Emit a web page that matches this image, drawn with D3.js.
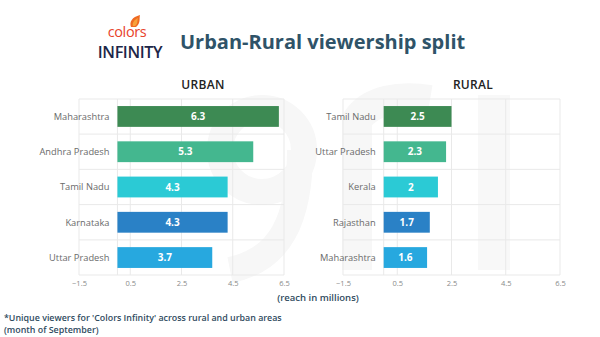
<!DOCTYPE html>
<html><head><meta charset="utf-8">
<script src="https://cdn.jsdelivr.net/npm/d3@7"></script>
<style>body{margin:0;background:#fff}svg{display:block}text{font-family:"Open Sans",sans-serif}</style>
</head><body>
<svg id="c" width="600" height="337"></svg>
<script>
const urbanStates = ["Maharashtra","Andhra Pradesh","Tamil Nadu","Karnataka","Uttar Pradesh"];
const urbanValues = [6.3,5.3,4.3,4.3,3.7];
const ruralStates = ["Tamil Nadu","Uttar Pradesh","Kerala","Rajasthan","Maharashtra"];
const ruralValues = [2.5,2.3,2,1.7,1.6];
const tickValues = [-1.5,0.5,2.5,4.5,6.5];
const barColors = ["#3d8a53","#44b78f","#2bcad5","#2a81c6","#27a8df"];

const svg = d3.select("#c");
svg.append("rect").attr("width",600).attr("height",337).attr("fill","#fff");

// faint watermark shapes
const wm = svg.append("g").attr("fill","none").attr("stroke","#f7f7f7");
wm.append("circle").attr("cx",262).attr("cy",150).attr("r",42).attr("stroke-width",26);
wm.append("path").attr("d","M300,150 C300,220 280,260 230,270").attr("stroke-width",26);
wm.append("path").attr("d","M357,270 L357,120 C370,100 400,95 430,100").attr("stroke-width",30);
wm.append("rect").attr("x",478).attr("y",95).attr("width",32).attr("height",175).attr("fill","#f8f8f8").attr("stroke","none");

// logo
const logo = svg.append("g");
logo.append("path").attr("d","M131,27 C129,22 132,17 140,15 C139,19 141,23 136,27 Z").attr("fill","#ef6a22");
logo.append("path").attr("d","M133,26 C132,23 134,20 138,18 C137,21 138,24 135,26 Z").attr("fill","#f7a13a");
logo.append("text").attr("x",127).attr("y",36.5).attr("text-anchor","middle").attr("font-size",14.5)
  .attr("font-weight",500).attr("fill","#e8432b").attr("letter-spacing",-0.4).text("colors");
logo.append("text").attr("x",130).attr("y",58).attr("text-anchor","middle").attr("font-size",16.2)
  .attr("font-weight",600).attr("fill","#1d2748").attr("letter-spacing",-0.4).text("INFINITY");

svg.append("text").attr("x",180).attr("y",49).attr("font-size",20).attr("font-weight",700)
  .attr("fill","#2f5368").text("Urban-Rural viewership split");

function panel(states, values, x0, x1, title, titleX){
  const x = d3.scaleLinear().domain([-1.5,6.5]).range([x0,x1]);
  const y = d3.scaleBand().domain(states).range([99,275]).paddingInner(0.41).paddingOuter(0.2);
  const g = svg.append("g");
  const step = y.step();
  const hs = [99,275].concat(states.slice(1).map(s=>y(s) - step*0.41/2));
  g.selectAll(".h").data(hs).join("line").attr("x1",x0).attr("x2",x1)
    .attr("y1",d=>d).attr("y2",d=>d).attr("stroke","#e9e9e9").attr("stroke-width",1);
  g.selectAll(".v").data(tickValues.concat([0])).join("line").attr("x1",d=>x(d)).attr("x2",d=>x(d))
    .attr("y1",99).attr("y2",275).attr("stroke","#e9e9e9").attr("stroke-width",1);
  const ax = g.append("g").attr("transform","translate(0,275)")
    .call(d3.axisBottom(x).tickValues(tickValues).tickSize(0).tickPadding(6).tickFormat(d3.format("")));
  ax.select(".domain").remove();
  ax.selectAll("text").attr("font-size",7.5).attr("fill","#8a8a8a").attr("font-family","'Open Sans',sans-serif");
  g.selectAll(".b").data(values).join("rect")
    .attr("x",x(0)).attr("y",(d,i)=>y(states[i])).attr("width",d=>x(d)-x(0))
    .attr("height",y.bandwidth()).attr("fill",(d,i)=>barColors[i]);
  g.selectAll(".vl").data(values).join("text")
    .attr("x",d=>(x(d)+x(0))/2).attr("y",(d,i)=>y(states[i])+y.bandwidth()/2)
    .attr("dy","0.35em").attr("text-anchor","middle").attr("font-size",10).attr("font-weight",700)
    .attr("fill","#fff").text(d=>d);
  g.selectAll(".cl").data(states).join("text")
    .attr("x",x(0)-8).attr("y",d=>y(d)+y.bandwidth()/2).attr("dy","0.35em")
    .attr("text-anchor","end").attr("font-size",9.3).attr("fill","#6a6a6a").text(d=>d);
  svg.append("text").attr("x",titleX).attr("y",89).attr("text-anchor","middle")
    .attr("font-size",12).attr("font-weight",600).attr("fill","#222").attr("letter-spacing",0.3).text(title);
}
panel(urbanStates, urbanValues, 79, 284, "URBAN", 203);
panel(ruralStates, ruralValues, 343, 560, "RURAL", 473);

svg.append("text").attr("x",318).attr("y",301).attr("text-anchor","middle").attr("font-size",9.5)
  .attr("font-weight",600).attr("fill","#2f4b60").text("(reach in millions)");
svg.append("text").attr("x",4).attr("y",321).attr("font-size",8.9).attr("font-weight",600)
  .attr("fill","#2f4b60").text("*Unique viewers for 'Colors Infinity' across rural and urban areas");
svg.append("text").attr("x",4).attr("y",333).attr("font-size",8.9).attr("font-weight",600)
  .attr("fill","#2f4b60").text("(month of September)");
</script>
</body></html>
